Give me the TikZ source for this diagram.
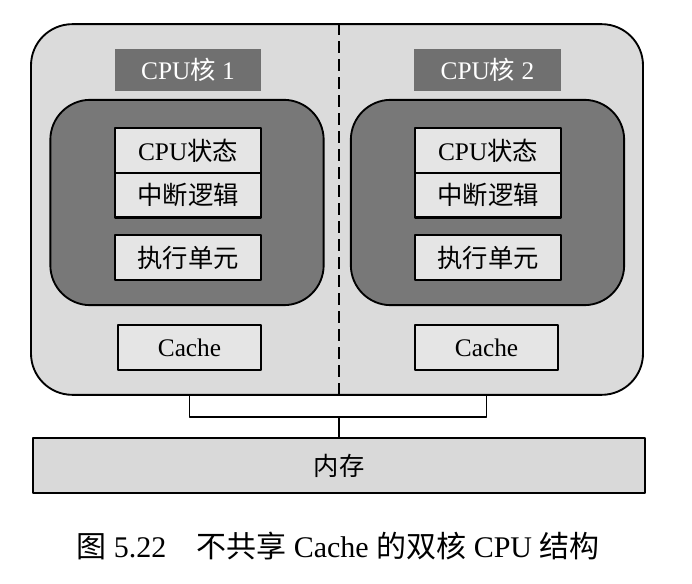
\documentclass[tikz,border=0pt]{standalone}
\usepackage{fontspec}
\setmainfont{Liberation Serif}
\newfontfamily\cjk{Noto Sans CJK SC}
\usetikzlibrary{positioning}

\tikzset{
  chipbox/.style={draw,line width=1.4pt,fill=black!14,rounded corners=31pt,
    minimum width=459pt,minimum height=278pt,inner sep=0pt},
  corebox/.style={draw,line width=1.4pt,fill=black!53,rounded corners=30pt,
    minimum width=205pt,minimum height=154pt,inner sep=0pt},
  labbox/.style={fill=black!56,text=white,minimum width=110pt,minimum height=31pt,
    inner sep=0pt,font=\fontsize{19}{22}\selectfont},
  unitbox/.style={draw,line width=1.6pt,fill=black!10,minimum width=109pt,
    minimum height=33.5pt,inner sep=0pt,font=\fontsize{19}{22}\selectfont},
  wire/.style={line width=0.9pt}
}

\begin{document}
\begin{tikzpicture}[x=0.75pt,y=-0.75pt,line join=round]
  \useasboundingbox (0,0) rectangle (692,584);
  \coordinate (bus) at (339,417);

  % chip with two cores
  \node[chipbox] (chip) at (337,209.5) {};
  \draw[line width=1pt,dash pattern=on 9pt off 4.5pt] (chip.north -| bus) -- (chip.south -| bus);

  \node[corebox] (core1) at (187,202.5) {};
  \node[corebox] (core2) at (487.5,202.5) {};

  \node[labbox] (lab1) at (188,70) {CPU{\cjk 核} 1};
  \node[labbox] (lab2) at (487.5,70) {CPU{\cjk 核} 2};

  \node[unitbox] (st1) at (188,150.5) {CPU{\cjk 状态}};
  \node[unitbox,below=-1.6pt of st1] (int1) {\cjk 中断逻辑};
  \node[unitbox] (ex1) at (188,257.5) {\cjk 执行单元};
  \node[unitbox] (st2) at (488,150.5) {CPU{\cjk 状态}};
  \node[unitbox,below=-1.6pt of st2] (int2) {\cjk 中断逻辑};
  \node[unitbox] (ex2) at (488,257.5) {\cjk 执行单元};

  \node[unitbox,minimum width=107pt] (ca1) at (189.5,347.5) {Cache};
  \node[unitbox,minimum width=107pt] (ca2) at (486.5,347.5) {Cache};

  % memory and bus
  \node[unitbox,fill=black!15,minimum width=459pt,minimum height=41pt] (mem) at (339,465.5) {\cjk 内存};
  \draw[wire] (chip.south -| ca1) |- (bus) -| (chip.south -| ca2);
  \draw[wire] (bus) -- (mem.north);

  \node[font=\fontsize{22.5}{26}\selectfont] (cap) at (338,546)
    {{\cjk 图} 5.22\quad{\cjk 不共享} Cache {\cjk 的双核} CPU {\cjk 结构}};
\end{tikzpicture}
\end{document}
